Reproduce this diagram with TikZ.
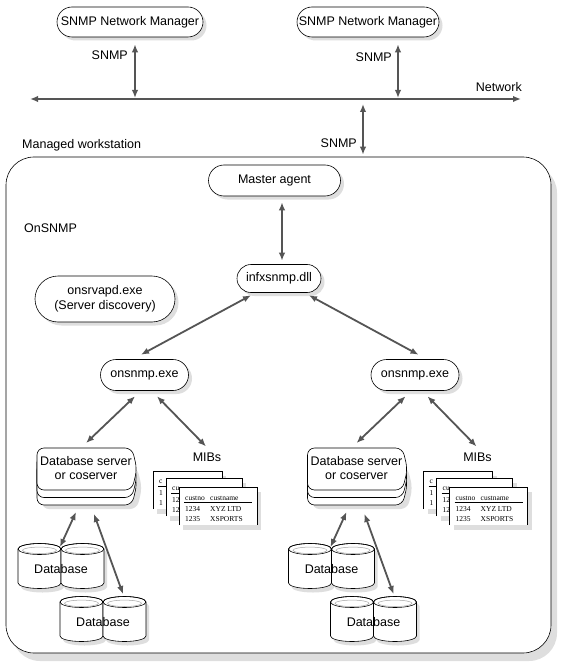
\documentclass[tikz,border=0pt]{standalone}
\usepackage{fontspec}
\setmainfont{Liberation Sans}
\newfontfamily\tabfont{Liberation Serif}
\usetikzlibrary{shapes.misc,shadows,arrows.meta,calc}
\definecolor{arrowgray}{RGB}{85,85,85}
\definecolor{shadegray}{RGB}{222,222,222}

\tikzset{
  pill/.style={rounded rectangle, draw, line width=0.6pt, fill=white, inner sep=2pt,
    drop shadow={shadow xshift=3.5pt, shadow yshift=-3.5pt, fill=shadegray, opacity=1}},
  bi/.style={{Latex[length=8pt,width=6.5pt]}-{Latex[length=8pt,width=6.5pt]}, draw=arrowgray, line width=1.8pt},
  lbl/.style={inner sep=0pt},
  tabtxt/.style={inner sep=0pt, anchor=west, font=\tabfont\fontsize{7.5}{8}\selectfont},
}

\newcommand\cylpath[1]{({#1-21.5},0) -- ({#1-21.5},-34) arc[start angle=180,end angle=360,x radius=21.5pt,y radius=5.5pt] -- ({#1+21.5},0) arc[start angle=0,end angle=180,x radius=21.5pt,y radius=5.5pt] -- cycle}

\newcommand\dbpair[3]{%
  \begin{scope}[shift={(#2,-#3)}]
    \begin{scope}[shift={(3,-4)}]
      \fill[shadegray] \cylpath{-21.5};
      \fill[shadegray] \cylpath{21.5};
    \end{scope}
    \foreach \cx in {-21.5,21.5}{
      \filldraw[fill=white, line width=0.6pt] \cylpath{\cx};
      \draw[line width=0.6pt] (\cx,0) ellipse[x radius=21.5pt,y radius=5.5pt];
      \draw[black!35, line width=0.5pt] (\cx,-1.3) ellipse[x radius=17pt,y radius=3.2pt];
    }
    \node[lbl] (#1) at (0,-20) {Database};
  \end{scope}}

% back sheet: only the visible strip of its first column is lettered
\newcommand\backsheet[6]{% x, y, width, header, row1, row2
  \begin{scope}[shift={(#1,-#2)}]
    \fill[shadegray] (4,-5) rectangle ++(#3,-38);
    \fill[white] (0,0) rectangle (#3,-38);
    \draw[line width=0.6pt] (0,-38) -- (0,0) -- (#3,0) -- (#3,-38);
    \draw[line width=0.5pt] (5,-15) -- (14,-15);
    \node[tabtxt] at (6,-11) {#4};
    \node[tabtxt] at (6,-22) {#5};
    \node[tabtxt] at (6,-32) {#6};
  \end{scope}}

\newcommand\frontsheet[3]{%
  \begin{scope}[shift={(#1,-#2)}]
    \fill[shadegray] (4,-5) rectangle ++(#3,-38);
    \fill[white] (0,0) rectangle (#3,-38);
    \draw[line width=0.6pt] (0,-38) -- (0,0) -- (#3,0) -- (#3,-38);
    \node[tabtxt] at (6,-11) {custno};
    \node[tabtxt] at (31,-11) {custname};
    \draw[line width=0.5pt] (5,-15) -- (73,-15);
    \node[tabtxt] at (6,-22) {1234};
    \node[tabtxt] at (31,-22) {XYZ LTD};
    \node[tabtxt] at (6,-32) {1235};
    \node[tabtxt] at (31,-32) {XSPORTS};
  \end{scope}}

\newcommand\dbspath{(0,0) -- (95,0) -- (100,-21) -- (95,-42) -- (0,-42) -- cycle}

\newcommand\side[2]{%
  \begin{scope}[xshift=#2pt]
    \node[pill, minimum width=92pt, minimum height=31pt] (ons#1) at (144.5,-375) {onsnmp.exe};
    \begin{scope}[shift={(42,-467)}]
      \fill[shadegray, rounded corners=7pt] \dbspath;
    \end{scope}
    \begin{scope}[shift={(37,-463)}]
      \filldraw[fill=white, line width=0.6pt, rounded corners=7pt] \dbspath;
    \end{scope}
    \begin{scope}[shift={(37,-455.5)}]
      \filldraw[fill=white, line width=0.6pt, rounded corners=7pt] \dbspath;
    \end{scope}
    \begin{scope}[shift={(37,-448)}]
      \filldraw[fill=white, line width=0.6pt, rounded corners=7pt] \dbspath;
    \end{scope}
    \node[lbl, align=center] (dbs#1) at (86,-468) {Database server\\or coserver};
    \coordinate (dbt#1) at (86,-448);
    \node[lbl] (mib#1) at (207,-457) {MIBs};
    \backsheet{153}{471}{69}{c}{1}{1}
    \backsheet{166}{478}{76}{cu}{12}{12}
    \frontsheet{179}{487}{78}
    \dbpair{dba#1}{61}{549}
    \dbpair{dbb#1}{103}{602}
    \draw[bi] ($(ons#1.south)+(-9.5,-5.5)$) -- ($(dbt#1)+(0,5)$);
    \draw[bi] ($(ons#1.south)+(12.5,-5.5)$) -- ($(mib#1.north)+(-1,6)$);
    \draw[bi] ($(dbt#1)+(-10,-64)$) -- ($(dba#1)+(-1,22)$);
    \draw[bi] ($(dbt#1)+(8,-66)$) -- ($(dbb#1)+(20,28)$);
  \end{scope}}

\begin{document}
\begin{tikzpicture}[x=1pt,y=1pt,font=\fontsize{12.5}{14.5}\selectfont]
\useasboundingbox (0,0) rectangle (562,-671);

% managed workstation box
\node[draw, rounded corners=28pt, minimum width=545pt, minimum height=496pt, line width=0.6pt, fill=white,
  drop shadow={shadow xshift=6pt, shadow yshift=-8pt, fill=shadegray, opacity=1}] (ws) at (278.5,-405) {};
\node[lbl, anchor=west] (wslbl) at (22,-145) {Managed workstation};
\node[lbl, anchor=west] (onsnmplbl) at (24,-228) {OnSNMP};

% managers and network
\node[pill, minimum width=150pt, minimum height=30pt] (mgr1) at (130,-22) {SNMP Network Manager};
\node[pill, minimum width=146pt, minimum height=30pt] (mgr2) at (368,-22) {SNMP Network Manager};
\coordinate (netL) at (30,-99);
\coordinate (netR) at (521,-99);
\coordinate (nA) at (135,-98);
\coordinate (nB) at (398,-98);
\coordinate (nC) at (363,-104);
\draw[bi] (netL) -- (netR);
\node[lbl, anchor=east] (netlbl) at (522,-87) {Network};
\draw[bi] ($(mgr1.south)+(5,-7)$) -- (nA);
\draw[bi] ($(mgr2.south)+(30,-7)$) -- (nB);
\draw[bi] (nC) -- ($(ws.north)+(84.5,2)$);
\node[lbl, anchor=east] (s1) at (128,-55) {SNMP};
\node[lbl, anchor=east] (s2) at (392,-57) {SNMP};
\node[lbl, anchor=east] (s3) at (357,-143) {SNMP};

% agents
\node[pill, minimum width=136pt, minimum height=31pt] (master) at (274.5,-180.5) {Master agent};
\node[pill, minimum width=88pt, minimum height=28pt] (infx) at (279,-278.5) {infxsnmp.dll};
\node[pill, minimum width=144pt, minimum height=46pt, align=center] (srv) at (105,-299) {onsrvapd.exe\\(Server discovery)};
\draw[bi] ($(master.south)+(7.5,-6)$) -- ($(infx.north)+(3,3.5)$);

\side{L}{0}
\side{R}{270.5}

\draw[bi] ($(infx.south)+(-28,-2.5)$) -- ($(onsL.north)+(-3.5,4.5)$);
\draw[bi] ($(infx.south)+(30,-2.5)$) -- ($(onsR.north)+(3.5,4.5)$);
\end{tikzpicture}
\end{document}
